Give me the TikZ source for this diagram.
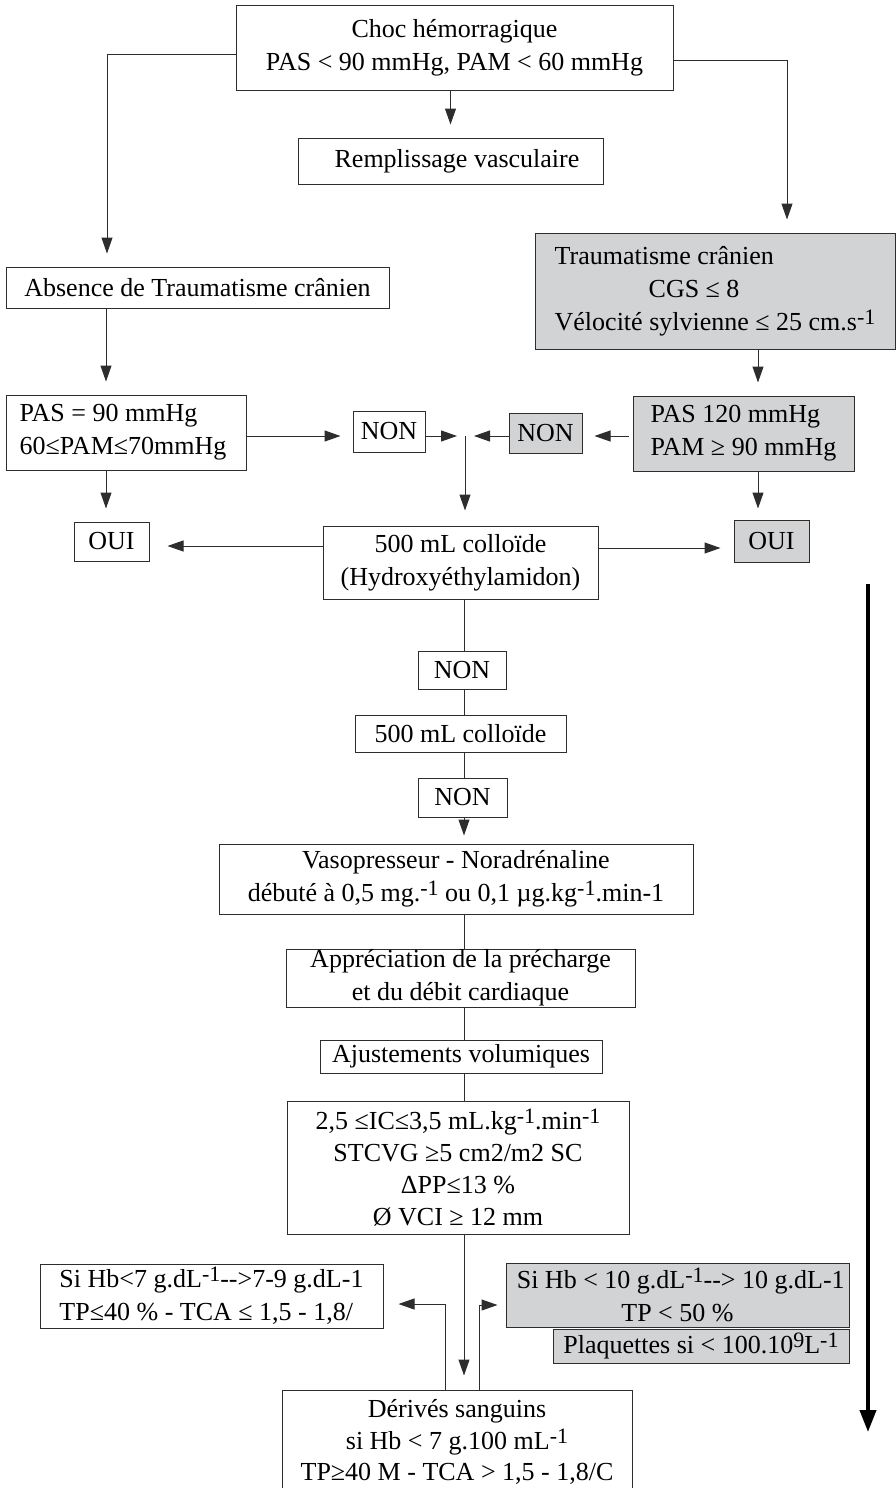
\documentclass[tikz,border=0pt]{standalone}
\usepackage{fontspec}
\setmainfont{Liberation Serif}
\usetikzlibrary{arrows.meta}
\definecolor{boxgrey}{RGB}{209,211,212}
\definecolor{ink}{RGB}{45,45,45}
\newcommand{\expo}[1]{\raisebox{6pt}{\fontsize{22}{22}\selectfont #1}}
\tikzset{>=stealth}
\tikzset{%
    box/.style={draw=ink, line width=1pt, inner sep=0pt, align=center,
        font=\fontsize{26}{33}\selectfont},
    greybox/.style={box, fill=boxgrey},
    link/.style={draw=ink, line width=1pt},
    arr/.style={link, -{Triangle[length=16pt,width=11pt]}, shorten >=13pt},
    bigarr/.style={draw=black, line width=4pt, -{Triangle[length=22pt,width=16pt]}}
}

\begin{document}
\begin{tikzpicture}[x=1pt,y=-1pt]
    \useasboundingbox (0,0) rectangle (896,1488);
    % upper part
    \node[box, minimum width=437pt, minimum height=84pt] (choc) at (454.5,48) {Choc hémorragique\\PAS < 90 mmHg, PAM < 60 mmHg};
    \node[box, minimum width=305pt, minimum height=46pt] (rempl) at (450.5,161) {\ \ Remplissage vasculaire};
    \node[box, minimum width=383pt, minimum height=41pt] (absence) at (197.5,287.5) {Absence de Traumatisme crânien};
    \node[greybox, align=left, minimum width=360pt, minimum height=116pt] (trauma) at (715,291) {Traumatisme crânien\\\hspace*{94pt}CGS ≤ 8\\Vélocité sylvienne ≤ 25 cm.s\expo{-1}};
    \node[box, align=left, minimum width=240pt, minimum height=75pt] (pas90) at (126,432.5) {PAS = 90 mmHg\\60≤PAM≤70mmHg\hspace*{6pt}};
    \node[greybox, align=left, minimum width=221pt, minimum height=75pt] (pas120) at (743.5,433.5) {PAS 120 mmHg\\PAM ≥ 90 mmHg};
    \node[box, minimum width=72pt, minimum height=41pt] (nonw) at (389,431.5) {NON};
    \node[greybox, minimum width=73pt, minimum height=40pt] (nong) at (545.5,433) {NON};
    \node[box, minimum width=275pt, minimum height=73pt] (coll1) at (460.5,562.5) {500 mL colloïde\\(Hydroxyéthylamidon)};
    \node[box, minimum width=75pt, minimum height=39pt] (ouil) at (111.5,541.5) {OUI};
    \node[greybox, minimum width=75pt, minimum height=42pt] (ouir) at (771.5,541) {OUI};
    % central column
    \node[box, minimum width=88pt, minimum height=38pt] (non2) at (462,670) {NON};
    \node[box, minimum width=211pt, minimum height=37pt] (coll2) at (460.5,733.5) {500 mL colloïde};
    \node[box, minimum width=89pt, minimum height=39pt] (non3) at (462.5,797.5) {NON};
    \node[box, minimum width=474pt, minimum height=70pt] (vaso) at (456,879) {Vasopresseur - Noradrénaline\\débuté à 0,5 mg.\expo{-1} ou 0,1 µg.kg\expo{-1}.min-1};
    \node[box, minimum width=349pt, minimum height=58pt] (appr) at (460.5,978) {Appréciation de la précharge\\et du débit cardiaque};
    \node[box, minimum width=282pt, minimum height=33pt] (ajust) at (461,1056.5) {Ajustements volumiques};
    \node[box, minimum width=342pt, minimum height=133pt, font=\fontsize{26}{32}\selectfont] (crit) at (458,1167.5) {2,5 ≤IC≤3,5 mL.kg\expo{-1}.min\expo{-1}\\STCVG ≥5 cm2/m2 SC\\ΔPP≤13 \%\\Ø VCI ≥ 12 mm};
    % lower part
    \node[box, align=left, minimum width=343pt, minimum height=64pt] (sil) at (211.5,1296) {Si Hb<7 g.dL\expo{-1}-{}->7-9 g.dL-1\\TP≤40 \% - TCA ≤ 1,5 - 1,8/};
    \node[greybox, minimum width=343pt, minimum height=64pt] (sir) at (677.5,1295) {\ Si Hb < 10 g.dL\expo{-1}-{}-> 10 g.dL-1\\TP < 50 \%};
    \node[greybox, minimum width=296pt, minimum height=34pt] (plaq) at (701,1346) {Plaquettes si < 100.10\expo{9}L\expo{-1}};
    \node[box, minimum width=350pt, minimum height=104pt, font=\fontsize{26}{31.5}\selectfont] (deriv) at (457,1442) {Dérivés sanguins\\si Hb < 7 g.100 mL\expo{-1}\\TP≥40 M - TCA > 1,5 - 1,8/C};
    \coordinate (merge) at (465,436);
    \coordinate (axis) at (464,0);
    \coordinate (tTop) at (868,584);
    \coordinate (tBot) at (868,1432);
    % connectors
    \draw[arr] ([yshift=-7pt]choc.west) -| ([xshift=-90.5pt]absence.north);
    \draw[arr] ([yshift=-13pt]choc.east) -| ([xshift=72pt]trauma.north);
    \draw[arr] (choc.south -| rempl.north) -- (rempl.north);
    \draw[arr] ([xshift=-20pt]pas90.north |- absence.south) -- ([xshift=-20pt]pas90.north);
    \draw[arr] ([xshift=14.5pt]pas120.north |- trauma.south) -- ([xshift=14.5pt]pas120.north);
    \draw[arr, shorten >=12pt] (pas90.east |- merge) -- (nonw.west |- merge);
    \draw[arr, shorten >=8pt] (nonw.east |- merge) -- (merge);
    \draw[arr, shorten >=9pt] (nong.west |- merge) -- (merge);
    \draw[arr, shorten <=4pt, shorten >=12pt] (pas120.west |- merge) -- (nong.east |- merge);
    \draw[arr, shorten >=15pt] (merge) -- (merge |- coll1.north);
    \draw[arr] ([xshift=-20pt]pas90.south) -- ([xshift=-20pt]pas90.south |- ouil.north);
    \draw[arr, shorten >=11pt] ([xshift=14.5pt]pas120.south) -- ([xshift=14.5pt]pas120.south |- ouir.north);
    \draw[arr, shorten >=18pt] ([yshift=16.5pt]coll1.west) -- ([yshift=16.5pt]coll1.west -| ouil.east);
    \draw[arr] ([yshift=14.5pt]coll1.east) -- ([yshift=14.5pt]coll1.east -| ouir.west);
    \draw[link] (axis |- coll1.south) -- (axis |- non2.north);
    \draw[link] (axis |- non2.south) -- (axis |- coll2.north);
    \draw[link] (axis |- coll2.south) -- (axis |- non3.north);
    \draw[arr, shorten >=8pt] (axis |- non3.south) -- (axis |- vaso.north);
    \draw[link] (axis |- vaso.south) -- (axis |- appr.north);
    \draw[link] (axis |- appr.south) -- (axis |- ajust.north);
    \draw[link] (axis |- ajust.south) -- (axis |- crit.north);
    \draw[arr, shorten >=14pt] (axis |- crit.south) -- (axis |- deriv.north);
    \draw[arr, shorten >=15pt] ([xshift=-19pt]axis |- deriv.north) |- ([yshift=-8pt]sil.east);
    \draw[arr, shorten >=8pt] ([xshift=15pt]axis |- deriv.north) |- ([yshift=-10pt]sir.west);
    \draw[bigarr] (tTop) -- (tBot);
\end{tikzpicture}
\end{document}
